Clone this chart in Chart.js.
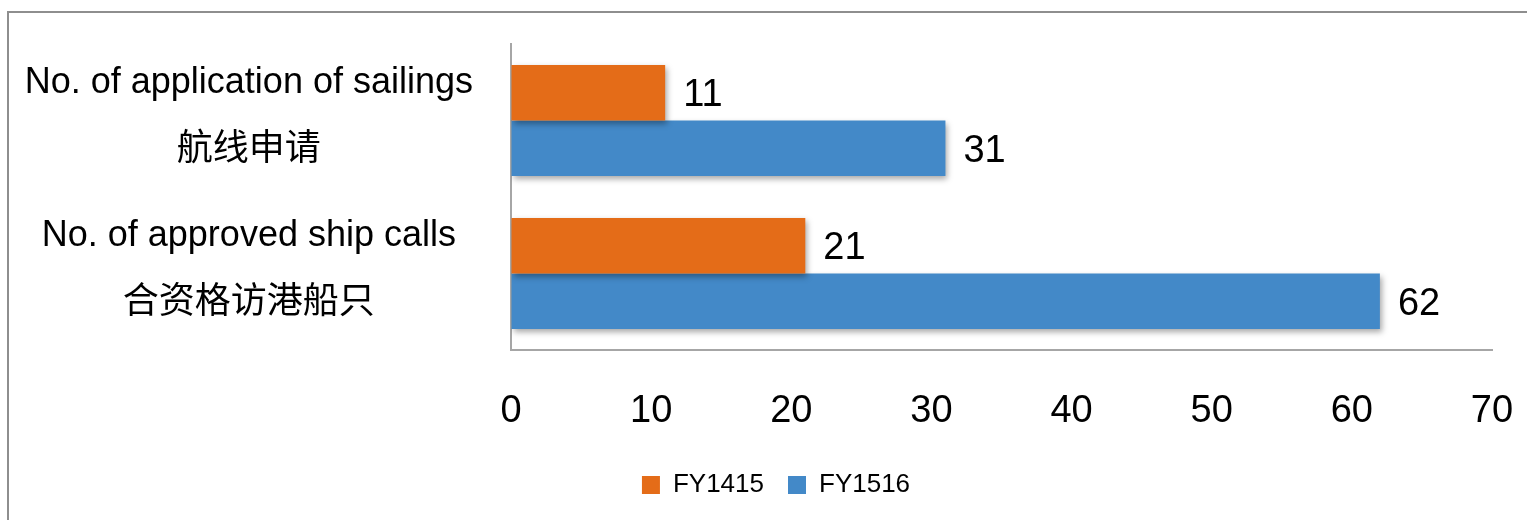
<!DOCTYPE html>
<html>
<head>
<meta charset="utf-8">
<script src="https://cdn.jsdelivr.net/npm/chart.js@4.4.1/dist/chart.umd.min.js"></script>
<style>
html, body { margin: 0; padding: 0; background: #fff; overflow: hidden; }
#marco { position: absolute; left: 7px; top: 11px; width: 1600px; height: 600px; border: 2px solid #8e8e8e; }
#contenedor { position: absolute; left: 0; top: 0; width: 1560px; height: 520px; }
</style>
</head>
<body>
<div id="marco"></div>
<div id="contenedor"><canvas id="grafico"></canvas></div>
<script>
const categorias = [
  ["No. of application of sailings", "航线申请"],
  ["No. of approved ship calls", "合资格访港船只"]
];
const series = ["FY1415", "FY1516"];
const valoresFY1415 = [11, 21];
const valoresFY1516 = [31, 62];
const ticksX = [0, 10, 20, 30, 40, 50, 60, 70];

const fuenteNum = "'Liberation Sans', sans-serif";
const fuenteEtiq = "'Liberation Sans', 'Noto Sans CJK SC', sans-serif";

// sombra de las barras + valores a la derecha
const etiquetasValor = {
  id: "etiquetasValor",
  beforeDatasetsDraw(chart) {
    const ctx = chart.ctx;
    ctx.save();
    ctx.shadowColor = "rgba(0,0,0,0.35)";
    ctx.shadowBlur = 6;
    ctx.shadowOffsetX = 2;
    ctx.shadowOffsetY = 3;
  },
  afterDatasetsDraw(chart) {
    const ctx = chart.ctx;
    ctx.restore();
    ctx.save();
    ctx.font = "38px " + fuenteNum;
    ctx.fillStyle = "#000";
    ctx.textAlign = "left";
    ctx.textBaseline = "middle";
    chart.data.datasets.forEach((ds, i) => {
      chart.getDatasetMeta(i).data.forEach((bar, j) => {
        ctx.fillText(ds.data[j], bar.x + 18, bar.y + 3);
      });
    });
    ctx.restore();
  }
};

const grafico = new Chart(document.getElementById("grafico"), {
  type: "bar",
  data: {
    labels: categorias,
    datasets: [
      { label: series[0], data: valoresFY1415, backgroundColor: "#E46C18" },
      { label: series[1], data: valoresFY1516, backgroundColor: "#4389C8" }
    ]
  },
  options: {
    indexAxis: "y",
    responsive: true,
    maintainAspectRatio: false,
    animation: false,
    layout: { padding: { top: 44, left: 0, right: 8, bottom: 12 } },
    datasets: { bar: { categoryPercentage: 0.724, barPercentage: 1 } },
    scales: {
      x: {
        min: 0,
        max: 70,
        afterBuildTicks: (scale) => { scale.ticks = ticksX.map(v => ({ value: v })); },
        afterFit: (scale) => { scale.paddingRight = 68; scale.height = 98; },
        grid: { drawOnChartArea: false, drawTicks: false },
        border: { color: "#a6a6a6", width: 2 },
        ticks: { padding: 39, color: "#000", font: { family: fuenteNum, size: 38 } }
      },
      y: {
        afterFit: (scale) => { scale.paddingTop = 0; scale.paddingBottom = 0; scale.width = 511; },
        grid: { drawOnChartArea: false, drawTicks: false },
        border: { color: "#a6a6a6", width: 2 },
        ticks: {
          padding: 38,
          labelOffset: -4,
          crossAlign: "center",
          color: "#000",
          font: { family: fuenteEtiq, size: 36, lineHeight: 1.85 }
        }
      }
    },
    plugins: {
      legend: {
        position: "bottom",
        labels: {
          boxWidth: 18,
          boxHeight: 18,
          padding: 24,
          color: "#000",
          font: { family: fuenteNum, size: 26 }
        }
      },
      tooltip: { enabled: false }
    }
  },
  plugins: [etiquetasValor]
});
</script>
</body>
</html>
